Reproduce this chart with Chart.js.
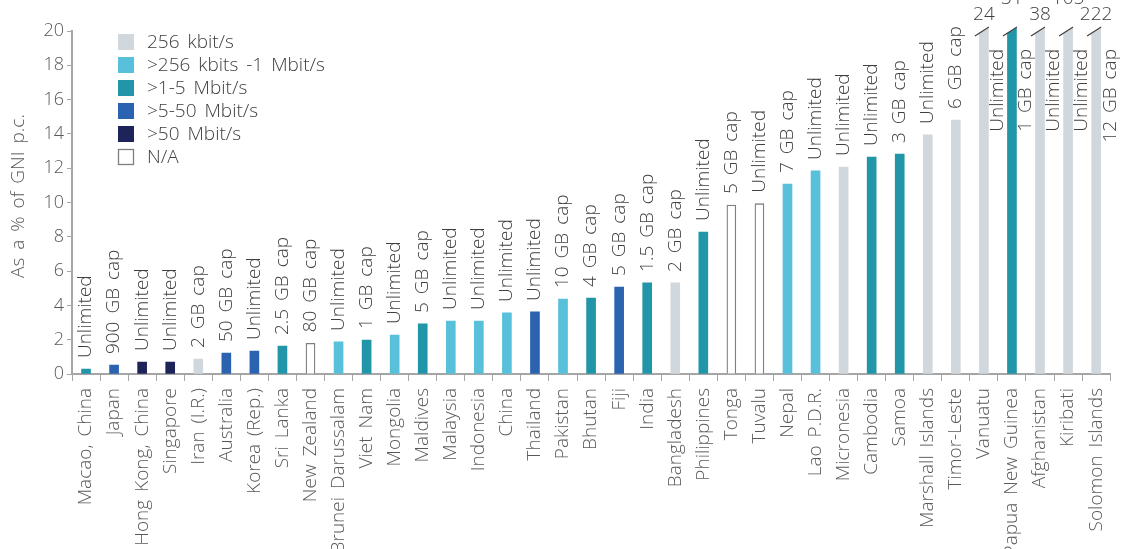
<!DOCTYPE html>
<html lang="en">
<head>
<meta charset="UTF-8">
<title>Fixed broadband prices, Asia-Pacific</title>
<script src="https://cdn.jsdelivr.net/npm/chart.js"></script>
<style>
  html, body { margin: 0; padding: 0; background: #fff; }
  #wrap { width: 1126px; height: 549px; }
</style>
</head>
<body>
<div id="wrap"><canvas id="grafico"></canvas></div>
<script>
// countries, left to right
const paises = [
  'Macao, China', 'Japan', 'Hong Kong, China', 'Singapore', 'Iran (I.R.)', 'Australia',
  'Korea (Rep.)', 'Sri Lanka', 'New Zealand', 'Brunei Darussalam', 'Viet Nam', 'Mongolia',
  'Maldives', 'Malaysia', 'Indonesia', 'China', 'Thailand', 'Pakistan', 'Bhutan', 'Fiji',
  'India', 'Bangladesh', 'Philippines', 'Tonga', 'Tuvalu', 'Nepal', 'Lao P.D.R.',
  'Micronesia', 'Cambodia', 'Samoa', 'Marshall Islands', 'Timor-Leste', 'Vanuatu',
  'Papua New Guinea', 'Afghanistan', 'Kiribati', 'Solomon Islands'
];

// price as % of GNI p.c.
const valores = [
  0.29, 0.52, 0.70, 0.70, 0.87, 1.22,
  1.34, 1.63, 1.79, 1.87, 1.98, 2.27,
  2.92, 3.09, 3.09, 3.56, 3.62, 4.37, 4.43, 5.07,
  5.31, 5.31, 8.28, 9.85, 9.93, 11.08, 11.84,
  12.07, 12.65, 12.83, 13.94, 14.81, 24,
  31, 38, 105, 222
];

// speed class (index into legenda)
const velocidade = [
  2, 3, 4, 4, 0, 3,
  3, 2, 5, 1, 2, 1,
  2, 1, 1, 1, 3, 1, 2, 3,
  2, 0, 2, 5, 5, 1, 1,
  0, 2, 2, 0, 0, 0,
  2, 0, 0, 0
];

// data allowance written above each bar
const anotacoes = [
  'Unlimited', '900 GB cap', 'Unlimited', 'Unlimited', '2 GB cap', '50 GB cap',
  'Unlimited', '2.5 GB cap', '80 GB cap', 'Unlimited', '1 GB cap', 'Unlimited',
  '5 GB cap', 'Unlimited', 'Unlimited', 'Unlimited', 'Unlimited', '10 GB cap', '4 GB cap', '5 GB cap',
  '1.5 GB cap', '2 GB cap', 'Unlimited', '5 GB cap', 'Unlimited', '7 GB cap', 'Unlimited',
  'Unlimited', 'Unlimited', '3 GB cap', 'Unlimited', '6 GB cap', 'Unlimited',
  '1 GB cap', 'Unlimited', 'Unlimited', '12 GB cap'
];

const legenda = ['256 kbit/s', '>256 kbits -1 Mbit/s', '>1-5 Mbit/s', '>5-50 Mbit/s', '>50 Mbit/s', 'N/A'];
const cores = ['#d0d8de', '#59c0dc', '#2196a9', '#2c63b0', '#1e235a', '#ffffff'];

const yTicks = [0, 2, 4, 6, 8, 10, 12, 14, 16, 18, 20];
const yTitulo = 'As a % of GNI p.c.';
const Y_MAX = 20;

const FONTE = "'Open Sans', sans-serif";
const TEXTO = '#595959';

// slightly wider word spacing, like the original typesetting
const espacamento = {
  id: 'espacamento',
  beforeDraw(chart) {
    chart.ctx.wordSpacing = '3px';
  }
};

// annotations, axis breaks, y title and the legend box
const extras = {
  id: 'extras',
  afterDatasetsDraw(chart) {
    const ctx = chart.ctx;
    const area = chart.chartArea;
    const meta = chart.getDatasetMeta(0);
    ctx.save();
    ctx.font = '300 19px ' + FONTE;
    ctx.fillStyle = '#404040';
    ctx.textBaseline = 'middle';
    let quebra = 0;
    meta.data.forEach((bar, i) => {
      if (valores[i] > Y_MAX) {
        const top = area.top - 4;
        // cut the top of the bar diagonally
        ctx.fillStyle = '#ffffff';
        ctx.beginPath();
        ctx.moveTo(bar.x - 8, top + 8);
        ctx.lineTo(bar.x + 7, top - 1);
        ctx.lineTo(bar.x + 7, top - 8);
        ctx.lineTo(bar.x - 8, top - 8);
        ctx.closePath();
        ctx.fill();
        ctx.strokeStyle = '#404040';
        ctx.lineWidth = 1.2;
        ctx.beginPath();
        ctx.moveTo(bar.x - 9, top + 9);
        ctx.lineTo(bar.x + 5, top);
        ctx.stroke();

        ctx.fillStyle = '#404040';
        ctx.textAlign = 'center';
        const vy = quebra % 2 === 0 ? 15 : -1;
        ctx.fillText(String(valores[i]), bar.x, vy);
        quebra++;

        ctx.save();
        ctx.translate(bar.x + 14, area.top + 18);
        ctx.rotate(-Math.PI / 2);
        ctx.textAlign = 'right';
        ctx.fillText(anotacoes[i], 0, 0);
        ctx.restore();
      } else {
        ctx.save();
        ctx.translate(bar.x, bar.y - 11);
        ctx.rotate(-Math.PI / 2);
        ctx.textAlign = 'left';
        ctx.fillText(anotacoes[i], 0, 0);
        ctx.restore();
      }
    });

    // y axis title
    ctx.save();
    ctx.fillStyle = TEXTO;
    ctx.translate(19, 196);
    ctx.rotate(-Math.PI / 2);
    ctx.textAlign = 'center';
    ctx.fillText(yTitulo, 0, 0);
    ctx.restore();

    // legend
    legenda.forEach((txt, i) => {
      const cy = 42 + i * 23;
      if (i === legenda.length - 1) {
        ctx.fillStyle = '#ffffff';
        ctx.fillRect(118, cy - 8, 16, 16);
        ctx.strokeStyle = '#7f7f7f';
        ctx.lineWidth = 1.3;
        ctx.strokeRect(118.5, cy - 7.5, 15, 15);
      } else {
        ctx.fillStyle = cores[i];
        ctx.fillRect(118, cy - 8, 16, 16);
      }
      ctx.fillStyle = '#404040';
      ctx.textAlign = 'left';
      ctx.fillText(txt, 147, cy + 1);
    });
    ctx.restore();
  }
};

const ctx = document.getElementById('grafico').getContext('2d');
new Chart(ctx, {
  type: 'bar',
  data: {
    labels: paises,
    datasets: [{
      data: valores,
      backgroundColor: velocidade.map(v => cores[v]),
      borderColor: velocidade.map(v => v === 5 ? '#7f7f7f' : 'rgba(0,0,0,0)'),
      borderWidth: velocidade.map(v => v === 5 ? 1.3 : 0),
      barThickness: 9,
      clip: { left: 0, top: 4, right: 0, bottom: 0 }
    }]
  },
  options: {
    responsive: true,
    maintainAspectRatio: false,
    animation: false,
    layout: { padding: { top: 31, right: 5, left: 0, bottom: 0 } },
    plugins: {
      legend: { display: false },
      tooltip: { enabled: false }
    },
    scales: {
      x: {
        grid: { drawOnChartArea: false, offset: true, tickLength: 7, color: '#a6a6a6', lineWidth: 1 },
        border: { color: '#a6a6a6', width: 2 },
        ticks: {
          color: TEXTO,
          font: { family: FONTE, size: 19, weight: 300 },
          maxRotation: 90,
          minRotation: 90,
          autoSkip: false,
          padding: 7
        },
        afterFit(scale) { scale.height = 175; }
      },
      y: {
        min: 0,
        max: Y_MAX,
        afterBuildTicks(scale) { scale.ticks = yTicks.map(v => ({ value: v })); },
        grid: { drawOnChartArea: false, tickLength: 5, color: '#a6a6a6' },
        border: { color: '#a6a6a6', width: 2 },
        ticks: {
          color: TEXTO,
          font: { family: FONTE, size: 18, weight: 300 },
          padding: 3
        },
        afterFit(scale) { scale.width = 72; }
      }
    }
  },
  plugins: [espacamento, extras]
});
</script>
</body>
</html>
